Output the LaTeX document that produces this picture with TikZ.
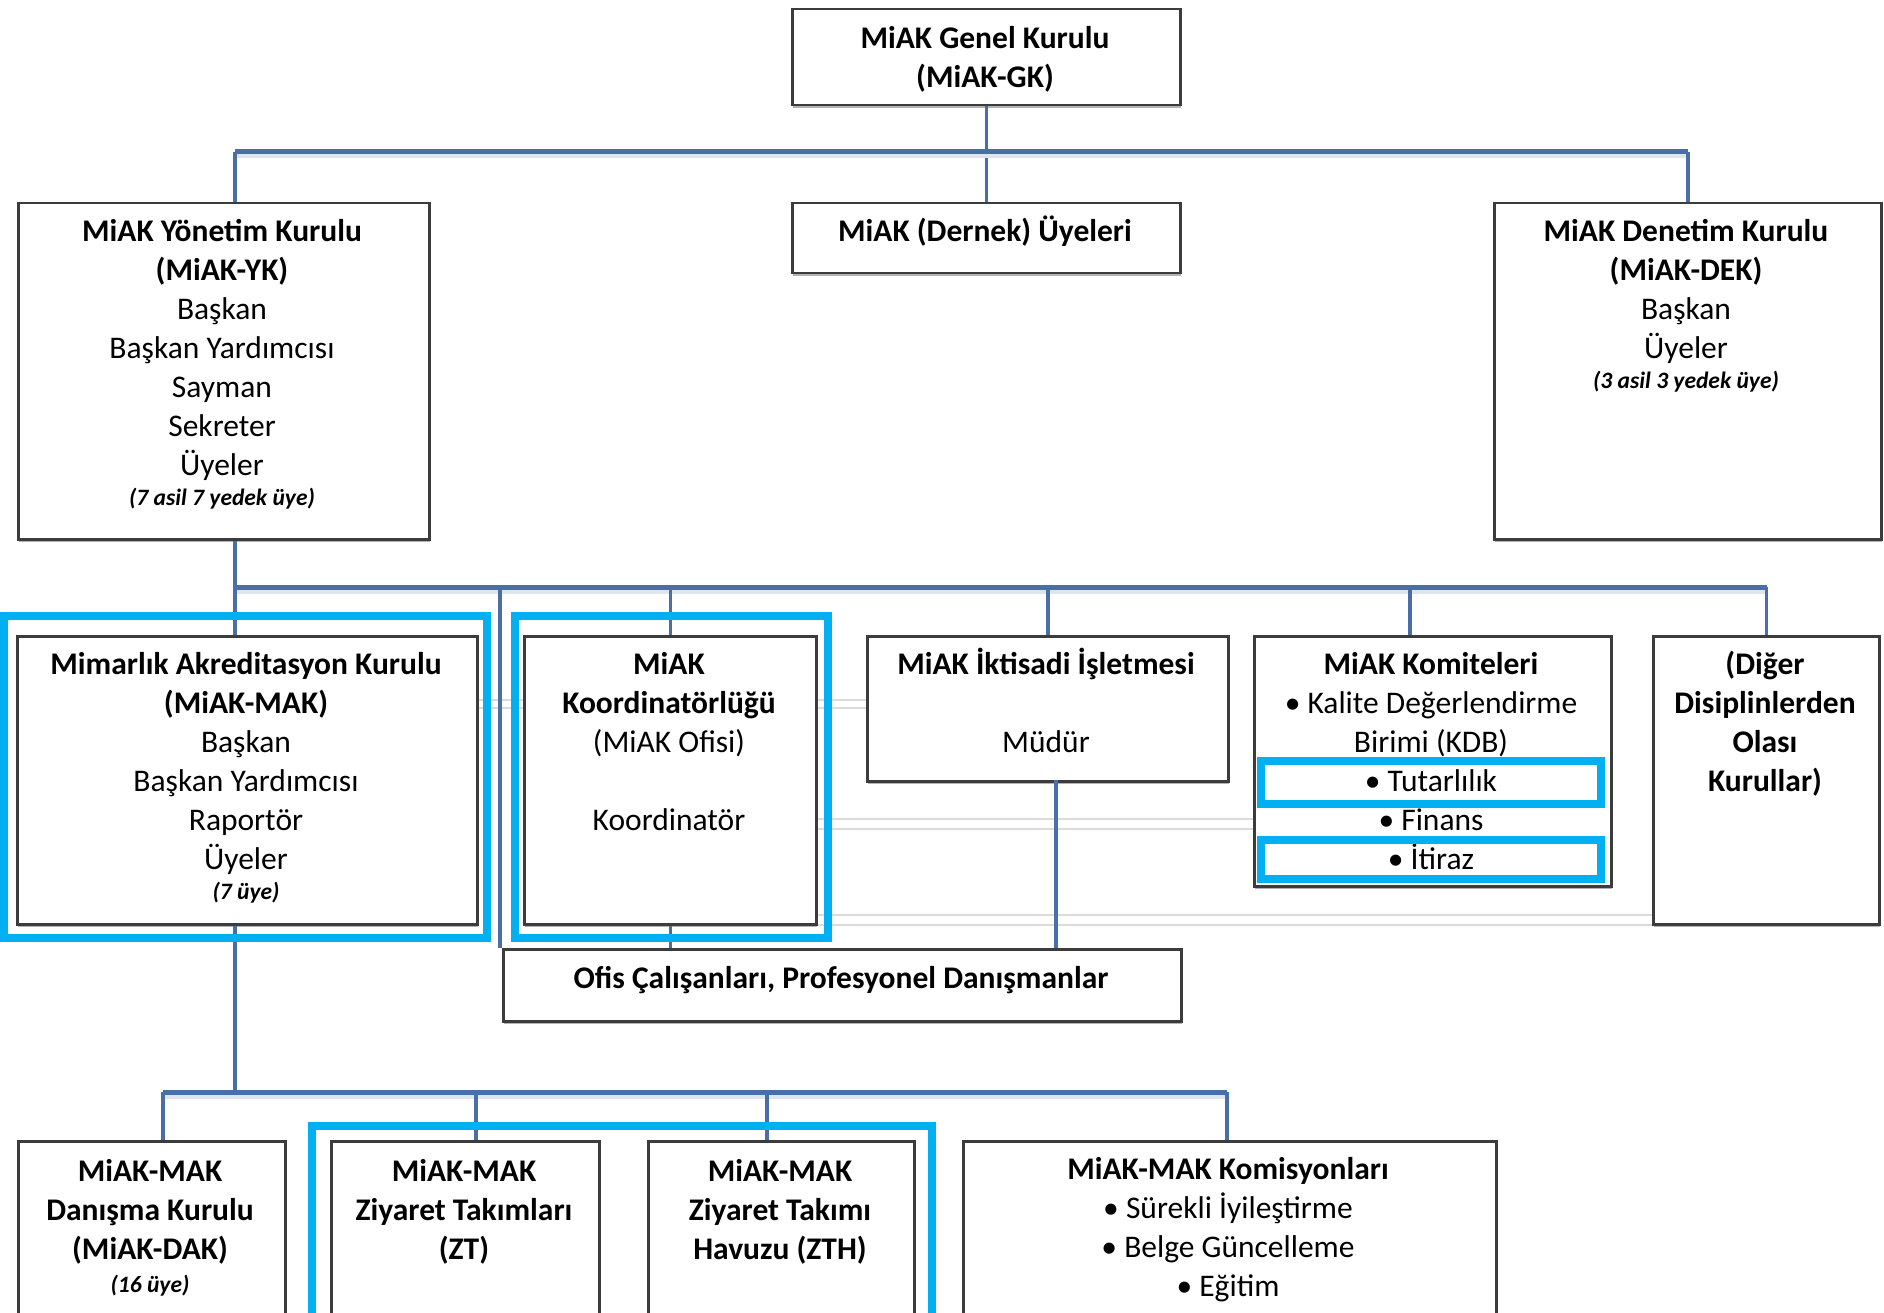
\documentclass[tikz,border=0pt]{standalone}
\usepackage{fontspec}
\setmainfont{Carlito}
\usetikzlibrary{shadows}
\definecolor{connc}{HTML}{4A6FA8}
\definecolor{hlc}{HTML}{00B0F0}
\definecolor{boxc}{HTML}{3C3C3C}
\newcommand{\firstln}{\rule{0pt}{30pt}}
\newcommand{\smit}[1]{{\fontsize{23.5}{27}\selectfont\bfseries\itshape #1}}
\tikzset{
  box/.style={draw=boxc, line width=2.5pt, fill=white, inner sep=0pt, anchor=north west,
    drop shadow={shadow xshift=1pt, shadow yshift=-2.5pt, opacity=0.3, fill=black}},
  txt/.style={anchor=north, align=center, inner sep=0pt, font=\fontsize{31.5}{39}\selectfont},
  conn/.style={draw=connc, line width=3.5pt},
  bus/.style={draw=connc, line width=5pt},
  busshadow/.style={draw=connc!18, line width=5pt},
  hlbox/.style={draw=hlc, line width=8pt},
  faint/.style={draw=black!14, line width=2pt},
}
\begin{document}
\begin{tikzpicture}[x=1pt,y=-1pt]
\useasboundingbox (0,0) rectangle (1884,1313);
\clip (0,0) rectangle (1884,1313);
\fill[white] (0,0) rectangle (1884,1313);

% bus coordinates
\coordinate (b1l) at (235,152);
\coordinate (b1r) at (1688,152);
\coordinate (b2l) at (235,587);
\coordinate (b2o) at (500,587);
\coordinate (b2k) at (1410,587);
\coordinate (b2r) at (1767,587);
\coordinate (b3m) at (235,1092);
\coordinate (b3l) at (163,1092);
\coordinate (b3a) at (476,1092);
\coordinate (b3b) at (767,1092);
\coordinate (b3r) at (1227,1092);
\coordinate (iktd) at (1056,780);

% faint background lines
\coordinate (fa1) at (476,700); \coordinate (fa2) at (866,700);
\coordinate (fb1) at (476,708); \coordinate (fb2) at (866,708);
\coordinate (fc1) at (815,819); \coordinate (fc2) at (1253,819);
\coordinate (fd1) at (815,829); \coordinate (fd2) at (1253,829);
\coordinate (fe1) at (815,915); \coordinate (fe2) at (1652,915);
\coordinate (ff1) at (815,925); \coordinate (ff2) at (1652,925);
\draw[faint] (fa1) -- (fa2); \draw[faint] (fb1) -- (fb2);
\draw[faint] (fc1) -- (fc2); \draw[faint] (fd1) -- (fd2);
\draw[faint] (fe1) -- (fe2); \draw[faint] (ff1) -- (ff2);

% boxes
\node[box, minimum width=388, minimum height=96] (gk) at (791,8) {};
\node[box, minimum width=388, minimum height=70] (dern) at (791,202) {};
\node[box, minimum width=411, minimum height=336] (yk) at (17,202) {};
\node[box, minimum width=387, minimum height=336] (dek) at (1493,202) {};
\node[box, minimum width=460, minimum height=288] (mak) at (16,635) {};
\node[box, minimum width=292, minimum height=288] (koord) at (523,635) {};
\node[box, minimum width=361, minimum height=145] (ikt) at (866,635) {};
\node[box, minimum width=357, minimum height=250] (kom) at (1253,635) {};
\node[box, minimum width=226, minimum height=288] (diger) at (1652,635) {};
\node[box, minimum width=678, minimum height=72] (ofis) at (502,948) {};
\node[box, minimum width=267, minimum height=200] (dak) at (17,1140) {};
\node[box, minimum width=268, minimum height=200] (zt) at (330,1140) {};
\node[box, minimum width=266, minimum height=200] (zth) at (647,1140) {};
\node[box, minimum width=533, minimum height=200] (kms) at (962,1140) {};

% connectors
\draw[conn] (gk.south) -- (dern.north);
\draw[busshadow] ([yshift=-4pt]b1l) -- ([yshift=-4pt]b1r);
\draw[bus] (b1l) -- (b1r);
\draw[conn] (b1l) -- (b1l |- yk.north);
\draw[conn] (b1r) -- (b1r |- dek.north);
\draw[conn] (b1l |- yk.south) -- (b2l);
\draw[busshadow] ([yshift=-4pt]b2l) -- ([yshift=-4pt]b2r);
\draw[bus] (b2l) -- (b2r);
\draw[conn] (b2l) -- (b2l |- mak.north);
\draw[conn] (b2o) -- (b2o |- ofis.north);
\draw[conn] (koord.north |- b2l) -- (koord.north);
\draw[conn] (ikt.north |- b2l) -- (ikt.north);
\draw[conn] (b2k) -- (b2k |- kom.north);
\draw[conn] (diger.north |- b2l) -- (diger.north);
\draw[conn] (koord.south) -- (koord.south |- ofis.north);
\draw[conn] (iktd) -- (iktd |- ofis.north);
\draw[conn] (b2l |- mak.south) -- (b3m);
\draw[busshadow] ([yshift=-4pt]b3l) -- ([yshift=-4pt]b3r);
\draw[bus] (b3l) -- (b3r);
\draw[conn] (b3l) -- (b3l |- dak.north);
\draw[conn] (b3a) -- (b3a |- zt.north);
\draw[conn] (b3b) -- (b3b |- zth.north);
\draw[conn] (b3r) -- (b3r |- kms.north);

% texts
\node[txt] (gkt) at (985,18) {\firstln\textbf{MiAK Genel Kurulu}\\\textbf{(MiAK-GK)}};
\node[txt] (dernt) at (985,211) {\firstln\textbf{MiAK (Dernek) Üyeleri}};
\node[txt] (ykt) at (222,211) {\firstln\textbf{MiAK Yönetim Kurulu}\\\textbf{(MiAK-YK)}\\Başkan\\Başkan Yardımcısı\\Sayman\\Sekreter\\Üyeler\\[-9pt]\smit{(7 asil 7 yedek üye)}};
\node[txt] (dekt) at (1686,211) {\firstln\textbf{MiAK Denetim Kurulu}\\\textbf{(MiAK-DEK)}\\Başkan\\Üyeler\\[-9pt]\smit{(3 asil 3 yedek üye)}};
\node[txt] (makt) at (246,644) {\firstln\textbf{Mimarlık Akreditasyon Kurulu}\\\textbf{(MiAK-MAK)}\\Başkan\\Başkan Yardımcısı\\Raportör\\Üyeler\\[-9pt]\smit{(7 üye)}};
\node[txt] (koordt) at (669,644) {\firstln\textbf{MiAK}\\\textbf{Koordinatörlüğü}\\(MiAK Ofisi)\\[39pt]Koordinatör};
\node[txt] (iktt) at (1046,644) {\firstln\textbf{MiAK İktisadi İşletmesi}\\[39pt]Müdür};
\node[txt] (komt) at (1431,644) {\firstln\textbf{MiAK Komiteleri}\\• Kalite Değerlendirme\\Birimi (KDB)\\• Tutarlılık\\• Finans\\• İtiraz};
\node[txt] (digert) at (1765,644) {\firstln\textbf{(Diğer}\\\textbf{Disiplinlerden}\\\textbf{Olası}\\\textbf{Kurullar)}};
\node[txt] (ofist) at (841,958) {\firstln\textbf{Ofis Çalışanları, Profesyonel Danışmanlar}};
\node[txt] (dakt) at (150,1151) {\firstln\textbf{MiAK-MAK}\\\textbf{Danışma Kurulu}\\\textbf{(MiAK-DAK)}\\[-6pt]\smit{(16 üye)}};
\node[txt] (ztt) at (464,1151) {\firstln\textbf{MiAK-MAK}\\\textbf{Ziyaret Takımları}\\\textbf{(ZT)}};
\node[txt] (ztht) at (780,1151) {\firstln\textbf{MiAK-MAK}\\\textbf{Ziyaret Takımı}\\\textbf{Havuzu (ZTH)}};
\node[txt] (kmst) at (1228,1149) {\firstln\textbf{MiAK-MAK Komisyonları}\\• Sürekli İyileştirme\\• Belge Güncelleme\\• Eğitim};

% highlights
\coordinate (h1a) at (4,616); \coordinate (h1b) at (487,938);
\coordinate (h2a) at (515,616); \coordinate (h2b) at (828,938);
\coordinate (h3a) at (1261,761); \coordinate (h3b) at (1601,804);
\coordinate (h4a) at (1261,840); \coordinate (h4b) at (1601,879);
\coordinate (h5a) at (312,1126); \coordinate (h5b) at (932,1340);
\draw[hlbox] (h1a) rectangle (h1b);
\draw[hlbox] (h2a) rectangle (h2b);
\draw[hlbox] (h3a) rectangle (h3b);
\draw[hlbox] (h4a) rectangle (h4b);
\draw[hlbox] (h5a) rectangle (h5b);
\end{tikzpicture}
\end{document}
